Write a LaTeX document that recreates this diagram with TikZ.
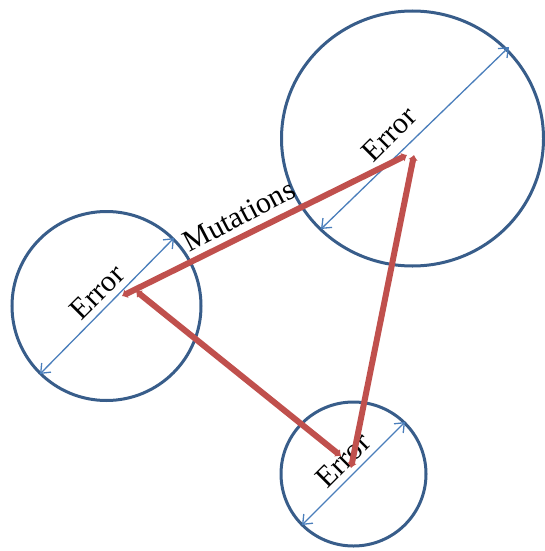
\documentclass[tikz,border=0pt]{standalone}
\usepackage{fontspec}
\setmainfont{Liberation Serif}
\usetikzlibrary{arrows.meta,shapes.geometric}
\definecolor{ringblue}{HTML}{385D8A}
\definecolor{arrowblue}{HTML}{4A7EBB}
\definecolor{mutred}{HTML}{C0504D}
\tikzset{
  ring/.style={draw=ringblue, line width=3pt, ellipse, inner sep=0pt},
  diam/.style={draw=arrowblue, line width=1.3pt, {Straight Barb[length=8pt,width=13pt]}-{Straight Barb[length=8pt,width=13pt]}},
  mut/.style={draw=mutred, line width=6pt, {Latex[length=5pt,width=10pt]}-{Latex[length=5pt,width=10pt]}},
  lab/.style={font=\fontsize{30}{30}\selectfont, inner sep=0pt}
}
\begin{document}
\begin{tikzpicture}[x=1pt,y=-1pt]
\useasboundingbox (0,0) rectangle (544,551);
% circles
\node[ring, minimum width=189pt, minimum height=189pt] (cl) at (106.5,306) {};
\node[ring, minimum width=262pt, minimum height=255pt] (ct) at (412.5,138.5) {};
\node[ring, minimum width=145pt, minimum height=144pt] (cb) at (353.5,474) {};
% diameter arrows
\coordinate (dl1) at (40,374);   \coordinate (dl2) at (174,238);
\coordinate (dt1) at (321,229);  \coordinate (dt2) at (509,47);
\coordinate (db1) at (302,525);  \coordinate (db2) at (405,422);
\draw[diam] (dl1) -- (dl2);
\draw[diam] (dt1) -- (dt2);
\draw[diam] (db1) -- (db2);
% labels
\node[lab, rotate=45] (el) at (97,292) {Error};
\node[lab, rotate=45] (et) at (389,134) {Error};
\node[lab, rotate=45] (eb) at (343,460) {Error};
\node[lab, rotate=27.5] (mu) at (239,216) {Mutations};
% mutation arrows
\coordinate (a1) at (122,296); \coordinate (a2) at (407,155);
\coordinate (b1) at (136,291); \coordinate (b2) at (341,456);
\coordinate (c1) at (414,155); \coordinate (c2) at (351,468);
\draw[mut] (a1) -- (a2);
\draw[mut] (b1) -- (b2);
\draw[mut] (c1) -- (c2);
\end{tikzpicture}
\end{document}
